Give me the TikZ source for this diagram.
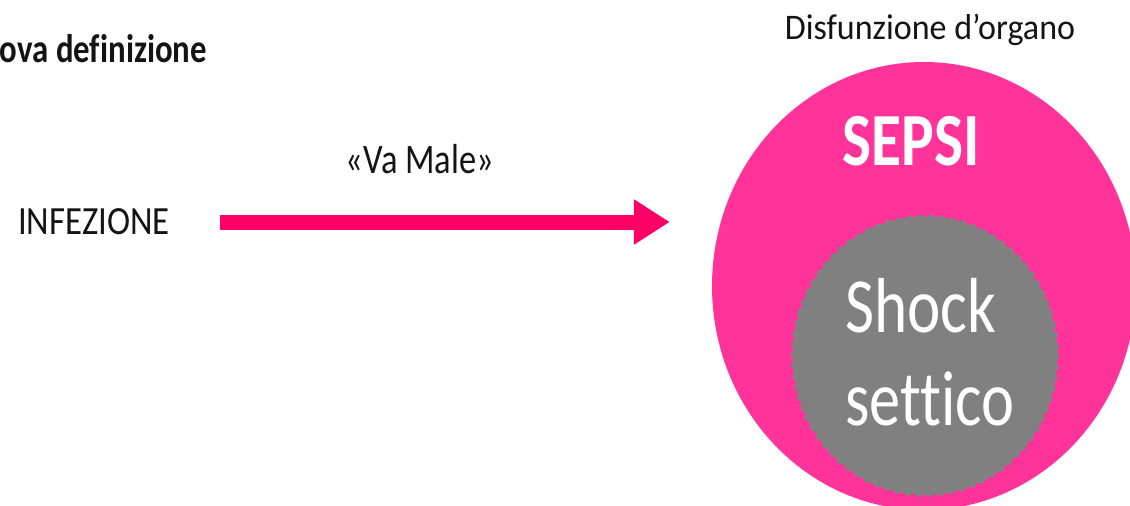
\documentclass[tikz,border=0pt]{standalone}
\usepackage{fontspec}
\setmainfont[Ligatures={NoCommon}]{Carlito}
\usetikzlibrary{arrows.meta,decorations.pathmorphing,shapes.geometric}
\definecolor{sepsipink}{RGB}{255,51,153}
\definecolor{arrowred}{RGB}{255,0,102}
\definecolor{shockgray}{RGB}{128,128,128}
\definecolor{inktext}{RGB}{20,20,20}
\begin{document}
\begin{tikzpicture}[x=1pt,y=-1pt,
  txt/.style={inner sep=0pt, text=inktext},
  intxt/.style={inner sep=0pt, text=white},
  flow/.style={arrowred, line width=15pt, -{Triangle[length=36pt,width=43pt]}},
]
\useasboundingbox (0,0) rectangle (1130,506);
\clip (0,0) rectangle (1130,506);
\fill[white] (0,0) rectangle (1130,506);

% titles
\node[txt, anchor=base east, xscale=0.82, font=\bfseries\fontsize{40}{44}\selectfont] (title) at (207,62) {Nuova definizione};
\node[txt, anchor=base, xscale=0.945, font=\fontsize{36}{40}\selectfont] (disf) at (930,39) {Disfunzione d’organo};

% left side
\node[txt, anchor=east, xscale=0.87, font=\fontsize{40}{44}\selectfont] (infez) at (170,222) {INFEZIONE};
\node[txt, anchor=base, xscale=0.82, font=\fontsize{42}{46}\selectfont] (vamale) at (420,173) {«Va Male»};

% nested sets
\node[ellipse, fill=sepsipink, inner sep=0pt, minimum width=424pt, minimum height=448pt] (sepsi) at (924,286) {};
\path[fill=shockgray, decorate, decoration={snake, amplitude=1.5pt, segment length=11pt}]
  (925,353) ellipse [x radius=133, y radius=140];

\node[intxt, anchor=base, xscale=0.82, font=\bfseries\fontsize{75}{80}\selectfont] (sepsitxt) at (911.5,165) {SEPSI};
\node[intxt, anchor=base west, xscale=0.81, font=\fontsize{78}{90}\selectfont] (shock) at (845,332) {Shock};
\node[intxt, anchor=base west, xscale=0.80, font=\fontsize{78}{90}\selectfont] (settico) at (845,425) {settico};

% arrow
\draw[flow, shorten <=50pt, shorten >=42pt] (infez.east) -- (infez.east -| sepsi.west);
\end{tikzpicture}
\end{document}
